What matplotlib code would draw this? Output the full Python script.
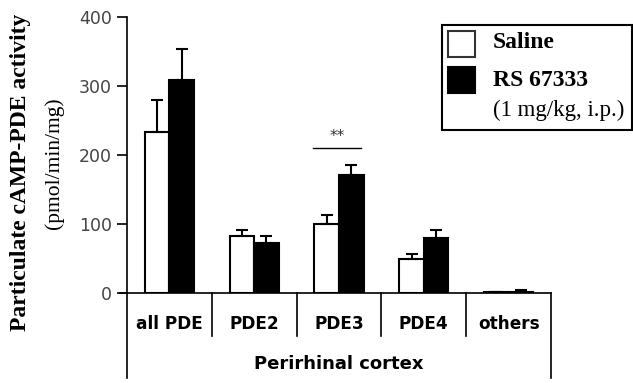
import matplotlib
matplotlib.use("Agg")
import matplotlib.pyplot as plt
from matplotlib.patches import Rectangle
import numpy as np

categories = ["all PDE", "PDE2", "PDE3", "PDE4", "others"]
saline = [233, 82, 100, 50, 1]
saline_err = [47, 9, 13, 7, 0]
rs = [309, 72, 171, 79, 1]
rs_err = [45, 11, 15, 12, 4]
yticks = [0, 100, 200, 300, 400]
region_label = "Perirhinal cortex"
sig_label = "**"
sig_y = 210

W, H = 633, 383
fig = plt.figure(figsize=(W / 100, H / 100), dpi=100)
ax = fig.add_axes([127 / W, (H - 293) / H, 424 / W, 276 / H])

x = np.arange(len(categories))
bw = 0.29
off = 0.145
ax.bar(x - off, saline, bw, color="white", edgecolor="black", linewidth=1.5, zorder=2)
ax.bar(x + off, rs, bw, color="black", edgecolor="black", linewidth=1.5, zorder=2)
ax.errorbar(x - off, saline, yerr=[np.zeros(len(saline)), saline_err], fmt="none",
            ecolor="black", elinewidth=1.5, capsize=4, capthick=1.5, zorder=3)
ax.errorbar(x + off, rs, yerr=[np.zeros(len(rs)), rs_err], fmt="none",
            ecolor="black", elinewidth=1.5, capsize=4, capthick=1.5, zorder=3)

ax.set_xlim(-0.5, len(categories) - 0.5)
ax.set_ylim(0, 400)
ax.set_yticks(yticks)
ax.set_yticklabels([str(t) for t in yticks], fontsize=12.5, color="#444444",
                   family="DejaVu Sans")
ax.tick_params(axis="y", direction="out", length=7, width=1.2, pad=4)
ax.set_xticks([])
for s in ["top", "right"]:
    ax.spines[s].set_visible(False)
ax.spines["left"].set_linewidth(1.2)
ax.spines["bottom"].set_linewidth(1.2)
ax.spines["bottom"].set_bounds(-0.5, len(categories) - 0.5)

# lower table-like structure
px = 1 / 276.0  # axes fraction per pixel (vertical)
ax.plot([0, 0], [0, -85 * px], transform=ax.transAxes, color="black", lw=1.2, clip_on=False)
ax.plot([1, 1], [0, -85 * px], transform=ax.transAxes, color="black", lw=1.2, clip_on=False)
ax.plot([-7 / 424, 0], [0, 0], transform=ax.transAxes, color="black", lw=1.2, clip_on=False)
n = len(categories)
for i in range(1, n):
    ax.plot([i / n, i / n], [0, -43 * px], transform=ax.transAxes, color="black",
            lw=1.2, clip_on=False)
for i, c in enumerate(categories):
    ax.text((i + 0.5) / n, -31 * px, c, transform=ax.transAxes, ha="center", va="center",
            fontsize=12.2, fontweight="bold", family="DejaVu Sans")
ax.text(0.5, -71 * px, region_label, transform=ax.transAxes, ha="center", va="center",
        fontsize=13, fontweight="bold", family="DejaVu Sans")

# significance
ax.plot([2 - 0.31, 2 + 0.26], [sig_y, sig_y], color="black", lw=1.0)
ax.text(2 - 0.02, sig_y + 6, sig_label, ha="center", va="bottom", fontsize=11,
        family="DejaVu Sans", color="#333333")

# y labels
fig.text(21 / W, 1 - 172 / H, "Particulate cAMP-PDE activity", rotation=90,
         ha="center", va="center", fontsize=17, fontweight="bold", family="Liberation Serif")
fig.text(54 / W, 1 - 163 / H, "(pmol/min/mg)", rotation=90, ha="center", va="center",
         fontsize=15.5, family="Liberation Serif")

# legend
fig.patches.append(Rectangle((442 / W, 1 - 130 / H), 190 / W, 105 / H, transform=fig.transFigure,
                             facecolor="white", edgecolor="black", lw=1.5))
fig.patches.append(Rectangle((448 / W, 1 - 57 / H), 27 / W, 26 / H, transform=fig.transFigure,
                             facecolor="white", edgecolor="#333333", lw=1.5))
fig.patches.append(Rectangle((448 / W, 1 - 93 / H), 27 / W, 26 / H, transform=fig.transFigure,
                             facecolor="black", edgecolor="black", lw=1.5))
fig.text(493 / W, 1 - 43 / H, "Saline", ha="left", va="center", fontsize=17,
         fontweight="bold", family="Liberation Serif")
fig.text(493 / W, 1 - 81 / H, "RS 67333", ha="left", va="center", fontsize=17,
         fontweight="bold", family="Liberation Serif")
fig.text(493 / W, 1 - 110 / H, "(1 mg/kg, i.p.)", ha="left", va="center", fontsize=16.5,
         family="Liberation Serif")

fig.savefig("out.png", dpi=100)
